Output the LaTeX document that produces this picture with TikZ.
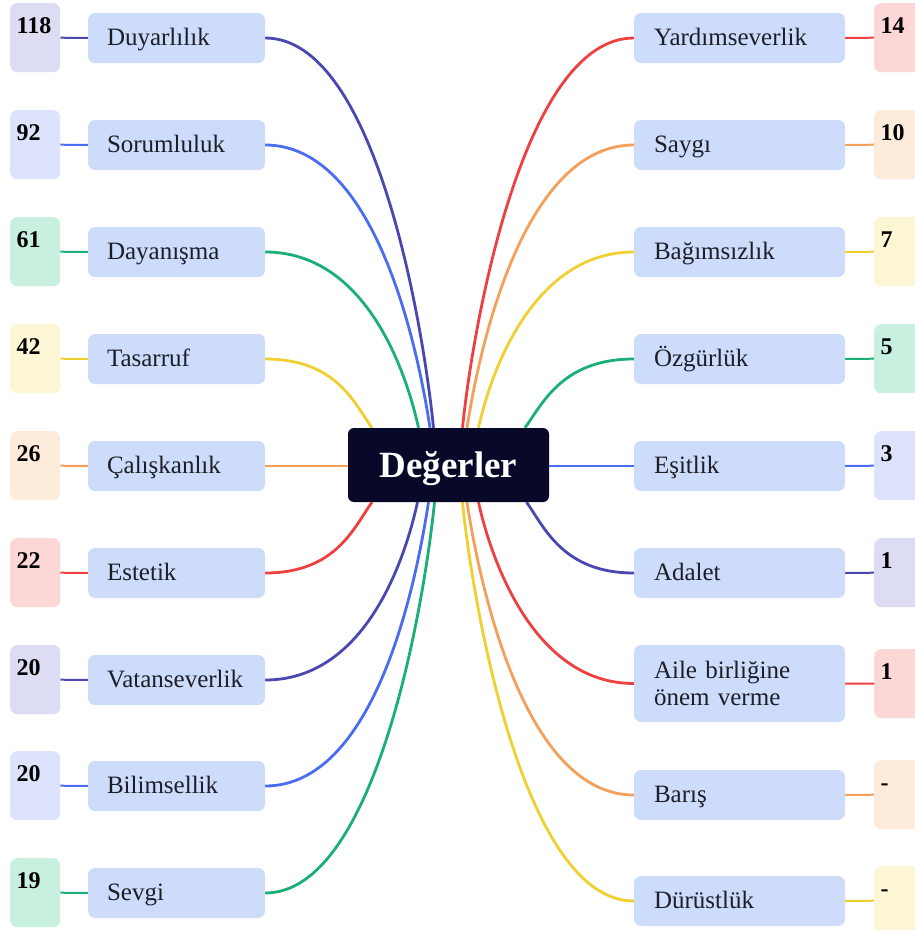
\documentclass[tikz,border=0pt]{standalone}
\usepackage{fontspec}
\setmainfont{Liberation Serif}
\usetikzlibrary{backgrounds}
\definecolor{vbg}{HTML}{CCDCFA}
\definecolor{txt}{HTML}{1E1E28}
\definecolor{rootc}{HTML}{080828}
\definecolor{lind}{HTML}{4A48B0}
\definecolor{lblu}{HTML}{4A6CF0}
\definecolor{lgrn}{HTML}{1AAF74}
\definecolor{lyel}{HTML}{F0D030}
\definecolor{lora}{HTML}{F4A05A}
\definecolor{lred}{HTML}{EE4040}
\definecolor{cind}{HTML}{DCDCF2}
\definecolor{cblu}{HTML}{DDE3FC}
\definecolor{cgrn}{HTML}{C8F0DE}
\definecolor{cyel}{HTML}{FDF6D4}
\definecolor{cora}{HTML}{FDEBDC}
\definecolor{cred}{HTML}{FDD6D6}
\begin{document}
\begin{tikzpicture}[x=1pt,y=-1pt,
  vbox/.style={fill=vbg, rounded corners=7pt, minimum height=50pt, inner ysep=0pt,
    align=left, font=\fontsize{25}{27}\selectfont, text=txt,
    text height=18pt, text depth=3pt},
  lbox/.style={vbox, text width=139pt, inner xsep=19pt},
  rbox/.style={vbox, text width=171pt, inner xsep=20pt},
  cbox/.style={rounded corners=7pt, text width=37pt, inner xsep=6.5pt, inner ysep=0pt,
    text height=30pt, text depth=39pt, align=left, anchor=north west,
    font=\bfseries\fontsize{24}{28}\selectfont, text=black},
  link/.style={line width=2.8pt},
  tick/.style={line width=2pt},
  rootbox/.style={fill=rootc, rounded corners=6pt, minimum width=201pt, minimum height=74pt,
    text=white, text height=24.5pt, text depth=0pt, inner sep=0pt,
    font=\bfseries\fontsize{37}{40}\selectfont}
]
\useasboundingbox (0,0) rectangle (914,930);

\node[rootbox] (root) at (448.5,465) {Değerler};

% left values
\node[lbox] (duy) at (176.5,38) {Duyarlılık};
\node[lbox] (sor) at (176.5,145) {Sorumluluk};
\node[lbox] (day) at (176.5,252) {Dayanışma};
\node[lbox] (tas) at (176.5,359) {Tasarruf};
\node[lbox] (cal) at (176.5,466) {Çalışkanlık};
\node[lbox] (est) at (176.5,573) {Estetik};
\node[lbox] (vat) at (176.5,680) {Vatanseverlik};
\node[lbox] (bil) at (176.5,786) {Bilimsellik};
\node[lbox] (sev) at (176.5,893) {Sevgi};

% left counts
\node[cbox, fill=cind] (nduy) at (10,3) {118};
\node[cbox, fill=cblu] (nsor) at (10,110) {92};
\node[cbox, fill=cgrn] (nday) at (10,217) {61};
\node[cbox, fill=cyel] (ntas) at (10,324) {42};
\node[cbox, fill=cora] (ncal) at (10,431) {26};
\node[cbox, fill=cred] (nest) at (10,538) {22};
\node[cbox, fill=cind] (nvat) at (10,645) {20};
\node[cbox, fill=cblu] (nbil) at (10,751) {20};
\node[cbox, fill=cgrn] (nsev) at (10,858) {19};

% right values
\node[rbox] (yar) at (739.5,38) {Yardımseverlik};
\node[rbox] (say) at (739.5,145) {Saygı};
\node[rbox] (bag) at (739.5,252) {Bağımsızlık};
\node[rbox] (ozg) at (739.5,359) {Özgürlük};
\node[rbox] (esi) at (739.5,466) {Eşitlik};
\node[rbox] (ada) at (739.5,573) {Adalet};
\node[rbox, minimum height=77pt, text height=17pt, text depth=28pt] (ail) at (739.5,683.5) {Aile birliğine\\önem verme};
\node[rbox] (bar) at (739.5,795) {Barış};
\node[rbox] (dur) at (739.5,901) {Dürüstlük};

% right counts
\node[cbox, fill=cred] (nyar) at (874,3) {14};
\node[cbox, fill=cora] (nsay) at (874,110) {10};
\node[cbox, fill=cyel] (nbag) at (874,217) {7};
\node[cbox, fill=cgrn] (nozg) at (874,324) {5};
\node[cbox, fill=cblu] (nesi) at (874,431) {3};
\node[cbox, fill=cind] (nada) at (874,538) {1};
\node[cbox, fill=cred] (nail) at (874,649) {1};
\node[cbox, fill=cora] (nbar) at (874,760) {-};
\node[cbox, fill=cyel] (ndur) at (874,866) {-};

\begin{pgfonlayer}{background}
\fill[white] (0,0) rectangle (914,930);
% left ticks
\draw[tick, lind] (nduy.east) -- (duy.west);
\draw[tick, lblu] (nsor.east) -- (sor.west);
\draw[tick, lgrn] (nday.east) -- (day.west);
\draw[tick, lyel] (ntas.east) -- (tas.west);
\draw[tick, lora] (ncal.east) -- (cal.west);
\draw[tick, lred] (nest.east) -- (est.west);
\draw[tick, lind] (nvat.east) -- (vat.west);
\draw[tick, lblu] (nbil.east) -- (bil.west);
\draw[tick, lgrn] (nsev.east) -- (sev.west);
% right ticks
\draw[tick, lred] (yar.east) -- (nyar.west);
\draw[tick, lora] (say.east) -- (nsay.west);
\draw[tick, lyel] (bag.east) -- (nbag.west);
\draw[tick, lgrn] (ozg.east) -- (nozg.west);
\draw[tick, lblu] (esi.east) -- (nesi.west);
\draw[tick, lind] (ada.east) -- (nada.west);
\draw[tick, lred] (ail.east) -- (nail.west);
\draw[tick, lora] (bar.east) -- (nbar.west);
\draw[tick, lyel] (dur.east) -- (ndur.west);
% left links
\draw[link, lind] (duy.east) .. controls +(111,0) and +(-10,-100) .. ([xshift=-15pt]root.north);
\draw[link, lblu] (sor.east) .. controls +(109,0) and +(-13,-85) .. ([xshift=-18.5pt]root.north);
\draw[link, lgrn] (day.east) .. controls +(101,0) and +(-12,-55) .. ([xshift=-30pt]root.north);
\draw[link, lyel] (tas.east) .. controls +(71,0) and +(-18,-25) .. ([xshift=-76.5pt]root.north);
\draw[link, lora] (cal.east) -- (cal.east -| root.west);
\draw[link, lred] (est.east) .. controls +(71,0) and +(-18,25) .. ([xshift=-76.5pt]root.south);
\draw[link, lind] (vat.east) .. controls +(101,0) and +(-12,55) .. ([xshift=-31pt]root.south);
\draw[link, lblu] (bil.east) .. controls +(109,0) and +(-13,85) .. ([xshift=-20pt]root.south);
\draw[link, lgrn] (sev.east) .. controls +(111,0) and +(-10,100) .. ([xshift=-14pt]root.south);
% right links
\draw[link, lred] (yar.west) .. controls +(-111,0) and +(10,-100) .. ([xshift=14pt]root.north);
\draw[link, lora] (say.west) .. controls +(-109,0) and +(13,-85) .. ([xshift=18.5pt]root.north);
\draw[link, lyel] (bag.west) .. controls +(-101,0) and +(12,-55) .. ([xshift=30pt]root.north);
\draw[link, lgrn] (ozg.west) .. controls +(-71,0) and +(18,-25) .. ([xshift=76.5pt]root.north);
\draw[link, lblu] (esi.west) -- (esi.west -| root.east);
\draw[link, lind] (ada.west) .. controls +(-71,0) and +(18,25) .. ([xshift=78pt]root.south);
\draw[link, lred] (ail.west) .. controls +(-101,0) and +(12,55) .. ([xshift=30pt]root.south);
\draw[link, lora] (bar.west) .. controls +(-109,0) and +(13,85) .. ([xshift=18.5pt]root.south);
\draw[link, lyel] (dur.west) .. controls +(-111,0) and +(10,100) .. ([xshift=14pt]root.south);
\end{pgfonlayer}
\end{tikzpicture}
\end{document}
